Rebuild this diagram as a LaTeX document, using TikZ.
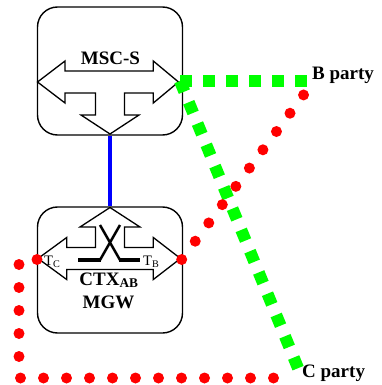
\documentclass[tikz,border=0pt]{standalone}
\usepackage{fontspec}
\setmainfont{Liberation Serif}
\definecolor{lgreen}{RGB}{0,255,0}
\definecolor{dred}{RGB}{255,0,0}
\definecolor{dblue}{RGB}{0,0,255}
\begin{document}
\begin{tikzpicture}[x=1pt,y=-1pt,
  box/.style={draw, line width=1.4pt, rounded corners=20pt, inner sep=0pt},
  arrowshape/.style={draw, line width=1.3pt, fill=white, line join=miter},
  lbl/.style={font=\fontsize{19}{22}\selectfont\bfseries, inner sep=0pt},
  tlbl/.style={font=\fontsize{14.5}{17}\selectfont, inner sep=0pt},
  redlink/.style={draw=dred, line width=11pt, line cap=round},
  greenlink/.style={draw=lgreen, line width=12pt, dash pattern=on 11.5pt off 11.5pt},
  bluelink/.style={draw=dblue, line width=3.5pt},
]
\useasboundingbox (0,0) rectangle (382,385);

% boxes
\node[box, minimum width=145pt, minimum height=128pt] (msc) at (110,71) {};
\node[box, minimum width=145pt, minimum height=126pt] (mgw) at (110,270) {};

% MSC-S arrows
\draw[arrowshape] (37.5,82) -- (65,61) -- (65,71) -- (153.3,71) -- (153.3,61) -- (178.5,82)
  -- (153.3,103) -- (153.3,93) -- (124.5,93) -- (124.5,115) -- (139,115) -- (110,134)
  -- (81,115) -- (95.5,115) -- (95.5,93) -- (65,93) -- (65,103) -- cycle;

% MGW arrows
\draw[arrowshape] (110,207.5) -- (140,227) -- (124.5,227) -- (124.5,247.5) -- (153.3,247.5)
  -- (153.3,237.5) -- (180.5,258.5) -- (153.3,279.5) -- (153.3,269.5) -- (66.7,269.5)
  -- (66.7,279.5) -- (38,258.5) -- (66.7,237.5) -- (66.7,247.5) -- (95.5,247.5)
  -- (95.5,227) -- (80,227) -- cycle;
\draw[line width=2.5pt] (100,225) -- (120,260) (120,225) -- (100,260);
\draw[line width=3.5pt] (78,260) -- (101,260) (119,260) -- (140,260);

% labels
\node[lbl, anchor=base] (msclbl) at (110.5,65) {MSC-S};
\node[tlbl, anchor=base west] (tc) at (44,265.5) {T\textsubscript{C}};
\node[tlbl, anchor=base east] (tb) at (159.5,265.5) {T\textsubscript{B}};
\node[lbl, anchor=base] (ctx) at (109,285) {CTX\textsubscript{AB}};
\node[lbl, anchor=base] (mgwlbl) at (108.5,308.3) {MGW};
\node[lbl, anchor=base west] (bparty) at (312,80) {B party};
\node[lbl, anchor=base west] (cparty) at (302,377.3) {C party};

% ports and ends
\coordinate (mscport) at (180,81);
\coordinate (gB) at (306.5,81);
\coordinate (gC) at (298.2,368.5);
\coordinate (TC) at (37,259.5);
\coordinate (TB) at (181.7,259.5);
\coordinate (rL1) at (19,259.5);
\coordinate (rL2) at (19,378);
\coordinate (rC) at (275,378);
\coordinate (rB) at (303.8,94.6);

% blue link
\draw[bluelink] (msc.south) -- (mgw.north);

% green signalling links
\draw[greenlink] (mscport) -- (gB);
\draw[greenlink] (mscport) -- (gC);

% red bearer paths
\draw[redlink, dash pattern=on 0pt off 22.75pt] (TB) -- (rB);
\draw[redlink, dash pattern=on 0pt off 23pt] (TC) -- (rL1) -- (rL2) -- (rC);
\end{tikzpicture}
\end{document}
